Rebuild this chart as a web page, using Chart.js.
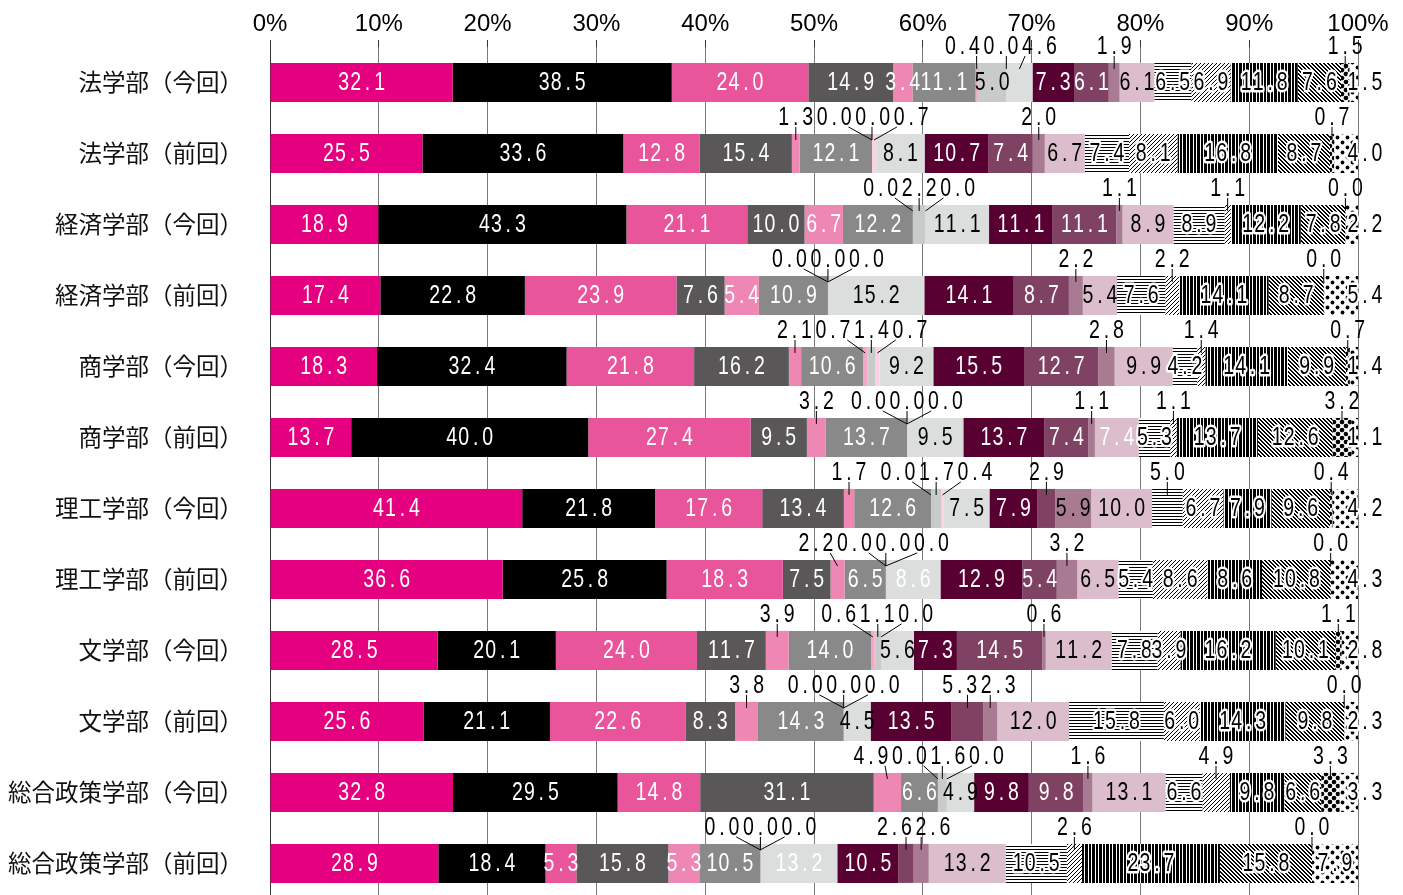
<!DOCTYPE html>
<html><head><meta charset="utf-8">
<script src="https://cdn.jsdelivr.net/npm/chart.js@4/dist/chart.umd.min.js"></script>
<style>html,body{margin:0;padding:0;background:#fff;overflow:hidden;width:1403px;height:895px}canvas{display:block}</style>
</head><body>
<canvas id="c" width="1403" height="940"></canvas>
<script>
const categories = ['法学部（今回）','法学部（前回）','経済学部（今回）','経済学部（前回）','商学部（今回）','商学部（前回）','理工学部（今回）','理工学部（前回）','文学部（今回）','文学部（前回）','総合政策学部（今回）','総合政策学部（前回）'];

const s01 = [32.1,25.5,18.9,17.4,18.3,13.7,41.4,36.6,28.5,25.6,32.8,28.9];
const s02 = [38.5,33.6,43.3,22.8,32.4,40.0,21.8,25.8,20.1,21.1,29.5,18.4];
const s03 = [24.0,12.8,21.1,23.9,21.8,27.4,17.6,18.3,24.0,22.6,14.8,5.3];
const s04 = [14.9,15.4,10.0,7.6,16.2,9.5,13.4,7.5,11.7,8.3,31.1,15.8];
const s05 = [3.4,1.3,6.7,5.4,2.1,3.2,1.7,2.2,3.9,3.8,4.9,5.3];
const s06 = [11.1,12.1,12.2,10.9,10.6,13.7,12.6,6.5,14.0,14.3,6.6,10.5];
const s07 = [0.4,0.0,0.0,0.0,0.7,0.0,0.0,0.0,0.6,0.0,0.0,0.0];
const s08 = [5.0,0.0,2.2,0.0,1.4,0.0,1.7,0.0,1.1,0.0,1.6,0.0];
const s09 = [0.0,0.7,0.0,0.0,0.7,0.0,0.4,0.0,0.0,0.0,0.0,0.0];
const s10 = [4.6,8.1,11.1,15.2,9.2,9.5,7.5,8.6,5.6,4.5,4.9,13.2];
const s11 = [7.3,10.7,11.1,14.1,15.5,13.7,7.9,12.9,7.3,13.5,9.8,10.5];
const s12 = [6.1,7.4,11.1,8.7,12.7,7.4,2.9,5.4,14.5,5.3,9.8,2.6];
const s13 = [1.9,2.0,1.1,2.2,2.8,1.1,5.9,3.2,0.6,2.3,1.6,2.6];
const s14 = [6.1,6.7,8.9,5.4,9.9,7.4,10.0,6.5,11.2,12.0,13.1,13.2];
const s15 = [6.5,7.4,8.9,7.6,4.2,5.3,5.0,5.4,7.8,15.8,6.6,10.5];
const s16 = [6.9,8.1,1.1,2.2,1.4,1.1,6.7,8.6,3.9,6.0,4.9,2.6];
const s17 = [11.8,16.8,12.2,14.1,14.1,13.7,7.9,8.6,16.2,14.3,9.8,23.7];
const s18 = [7.6,8.7,7.8,8.7,9.9,12.6,9.6,10.8,10.1,9.8,6.6,15.8];
const s19 = [1.5,0.7,0.0,0.0,0.7,3.2,0.4,0.0,1.1,0.0,3.3,0.0];
const s20 = [1.5,4.0,2.2,5.4,1.4,1.1,4.2,4.3,2.8,2.3,3.3,7.9];

const xTicks = [0,10,20,30,40,50,60,70,80,90,100];

const seriesValues = [s01,s02,s03,s04,s05,s06,s07,s08,s09,s10,s11,s12,s13,s14,s15,s16,s17,s18,s19,s20];

// ---- styling ----
const solidColors = ['#e4007f','#000000','#e8559b','#595757','#ee87b4','#898989','#f4a7c9','#c9caca','#f9d3e3','#dcdddd','#590033','#7f4262','#a97b93','#dbbdcb'];
const whiteLabelSeries = [0,1,2,3,4,5,10,11];
const whiteLabelExtra = {'7-9':1,'11-9':1,'5-13':1};
const outsideExtra = {'0-9':1,'6-14':1,'9-11':1,'9-4':1,'8-4':1,'10-4':1,'10-15':1};

const cv = document.getElementById('c');
const ctx0 = cv.getContext('2d');
function pat(w,h,draw){
  const c=document.createElement('canvas'); c.width=w; c.height=h;
  const x=c.getContext('2d'); x.fillStyle='#fff'; x.fillRect(0,0,w,h); x.fillStyle='#000'; draw(x);
  return ctx0.createPattern(c,'repeat');
}
const patterns = [
  pat(4,3,x=>{x.fillRect(0,0,4,1);}),
  pat(4,4,x=>{x.fillRect(3,0,1,1);x.fillRect(2,1,1,1);x.fillRect(1,2,1,1);x.fillRect(0,3,1,1);}),
  pat(7,1,x=>{x.fillRect(0,0,3,1);x.fillRect(4,0,2,1);}),
  pat(4,4,x=>{[[0,0],[1,0],[1,1],[2,1],[2,2],[3,2],[3,3],[0,3]].forEach(p=>x.fillRect(p[0],p[1],1,1));}),
  pat(8,8,x=>{[[2,2],[6,6],[-2,6],[6,-2],[10,6],[6,10],[2,10],[10,2],[-2,-2],[10,10],[-2,10],[10,-2]].forEach(p=>{x.beginPath();x.arc(p[0],p[1],2.3,0,Math.PI*2);x.fill();});}),
  pat(10,10,x=>{[[2.5,2.5],[7.5,7.5]].forEach(p=>{x.beginPath();x.arc(p[0],p[1],1.9,0,Math.PI*2);x.fill();});})
];
const fills = solidColors.concat(patterns);

const rowSums = categories.map((_,r)=>seriesValues.reduce((a,s)=>a+s[r],0));

const datasets = seriesValues.map((vals,k)=>({
  label: 'S'+(k+1),
  data: vals.map((v,r)=>v/rowSums[r]*100),
  backgroundColor: fills[k],
  borderWidth: 0,
  categoryPercentage: 1,
  barPercentage: 0.55
}));

function drawMono(ctx, text, cx, cy, color, halo){
  const cell = 12;
  const start = cx - text.length*cell/2;
  ctx.save();
  ctx.font = '25px "Liberation Sans", Arial, sans-serif';
  ctx.textAlign = 'center';
  ctx.textBaseline = 'middle';
  for(let i=0;i<text.length;i++){
    const x = start + cell*(i+0.5);
    ctx.save();
    ctx.translate(x, cy+1);
    ctx.scale(0.78,1);
    if(halo){ctx.strokeStyle='#fff';ctx.lineWidth=5;ctx.lineJoin='round';ctx.strokeText(text[i],0,0);}
    ctx.fillStyle = color;
    ctx.fillText(text[i],0,0);
    ctx.restore();
  }
  ctx.restore();
}

const labelPlugin = {
  id:'valLabels',
  afterDatasetsDraw(chart){
    const ctx = chart.ctx;
    const nS = chart.data.datasets.length;
    categories.forEach((cat,r)=>{
      const outs = [];
      let barTop = 0;
      for(let k=0;k<nS;k++){
        const el = chart.getDatasetMeta(k).data[r];
        const p = el.getProps(['x','base','y','height'], true);
        const v = seriesValues[k][r];
        const txt = v.toFixed(1);
        const cx = (p.x + p.base)/2;
        const w = Math.abs(p.x - p.base);
        barTop = p.y - p.height/2;
        const key = r+'-'+k;
        if(k === nS-1){
          const x = w >= 40 ? cx : p.x + 7;
          drawMono(ctx, txt, x, p.y, '#000', true);
          continue;
        }
        if(v < 3.4 || outsideExtra[key]){
          outs.push({ax:cx, txt, w: txt.length*12+2.5});
          continue;
        }
        const white = (whiteLabelSeries.includes(k) || whiteLabelExtra[key]);
        drawMono(ctx, txt, cx, p.y, white ? '#fff' : '#000', k >= 14);
      }
      outs.sort((a,b)=>a.ax-b.ax);
      let groups = outs.map(o=>({items:[o], width:o.w, center:o.ax}));
      let changed = true;
      while(changed){
        changed = false;
        for(let i=1;i<groups.length;i++){
          const a=groups[i-1], b=groups[i];
          if(a.center + a.width/2 > b.center - b.width/2){
            const items = a.items.concat(b.items);
            const width = a.width + b.width;
            const center = items.reduce((s,o)=>s+o.ax,0)/items.length;
            groups.splice(i-1,2,{items,width,center});
            changed = true; break;
          }
        }
      }
      const ly = barTop - 17;
      groups.forEach(g=>{
        let x = g.center - g.width/2;
        g.items.forEach(o=>{
          const lx = x + o.w/2;
          x += o.w;
          const dx = Math.max(-o.w/2+5, Math.min(o.w/2-5, o.ax - lx));
          ctx.save();
          ctx.strokeStyle = '#000'; ctx.lineWidth = 1;
          ctx.beginPath();
          ctx.moveTo(lx+dx, ly+10);
          ctx.lineTo(o.ax, barTop+6);
          ctx.stroke();
          ctx.restore();
          drawMono(ctx, o.txt, lx, ly, '#000', false);
        });
      });
    });
  }
};

new Chart(cv, {
  type:'bar',
  data:{labels:categories, datasets},
  options:{
    indexAxis:'y',
    responsive:false,
    animation:false,
    devicePixelRatio:1,
    layout:{padding:{left:0,right:45,top:0,bottom:0}},
    plugins:{legend:{display:false},title:{display:false},tooltip:{enabled:false}},
    scales:{
      x:{
        position:'top', stacked:true, min:0, max:100,
        afterBuildTicks(s){ s.ticks = xTicks.map(v=>({value:v})); },
        afterFit(s){ s.height = 47; },
        ticks:{callback:v=>v+'%', color:'#000', padding:1, font:{family:'"Liberation Sans Narrow", "Liberation Sans", Arial', size:24}, maxRotation:0, autoSkip:false},
        grid:{color:'#7a7a7a', lineWidth:1, tickLength:7, tickColor:'#333', drawTicks:true},
        border:{display:false}
      },
      y:{
        stacked:true,
        afterFit(s){ s.width = 270; },
        ticks:{color:'#111', padding:27, autoSkip:false, font:{family:'"Noto Sans CJK JP", sans-serif', size:23.5}},
        grid:{display:false, drawTicks:false},
        border:{display:true, color:'#333', width:1}
      }
    }
  },
  plugins:[labelPlugin]
});
</script>
</body></html>
